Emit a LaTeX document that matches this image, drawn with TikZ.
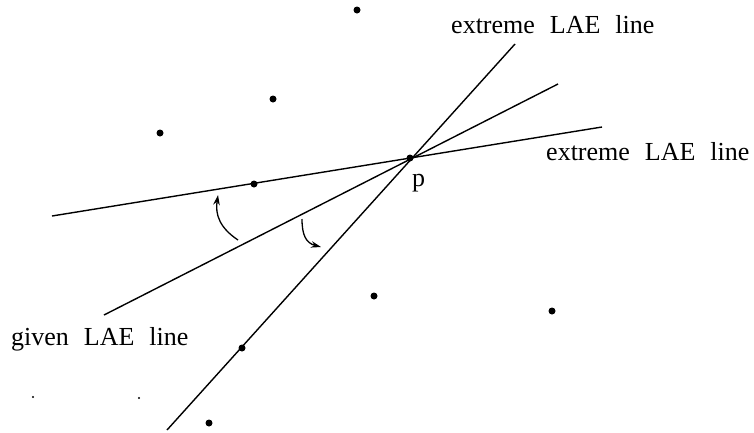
\documentclass[tikz,border=0pt]{standalone}
\usepackage{fontspec}
\setmainfont{Liberation Serif}
\usetikzlibrary{arrows.meta}
\newcommand{\wg}{\hspace{15pt}}
\begin{document}
\begin{tikzpicture}[x=1pt,y=-1pt,
  ln/.style={line width=1.4pt},
  pt/.style={circle,fill=black,inner sep=0pt,minimum size=7pt},
  speck/.style={circle,fill=black,inner sep=0pt,minimum size=2.4pt},
  lbl/.style={font=\fontsize{26}{30}\selectfont,inner sep=0pt,anchor=base west},
  arr/.style={line width=1.3pt,-{Stealth[length=10pt,width=6.5pt]}}]
\useasboundingbox (0,0) rectangle (754,432);
% lines
\coordinate (a1) at (167,430); \coordinate (a2) at (515,44);
\coordinate (b1) at (104,315); \coordinate (b2) at (558,84);
\coordinate (c1) at (52,216);  \coordinate (c2) at (602,127);
\draw[ln] (a1) -- (a2);
\draw[ln] (b1) -- (b2);
\draw[ln] (c1) -- (c2);
% points
\node[pt] (p) at (410,158) {};
\node[pt] (d1) at (357,10) {};
\node[pt] (d2) at (273,99) {};
\node[pt] (d3) at (160,133) {};
\node[pt] (d4) at (254,184) {};
\node[pt] (d5) at (374,296) {};
\node[pt] (d6) at (552,311) {};
\node[pt] (d7) at (242,348) {};
\node[pt] (d8) at (209,423) {};
\node[speck] (s1) at (33,397) {};
\node[speck] (s2) at (139,398) {};
% labels
\node[lbl] (t1) at (451,33) {extreme\wg LAE\wg line};
\node[lbl] (t2) at (546,160) {extreme\wg LAE\wg line};
\node[lbl] (t3) at (11,345) {given\wg LAE\wg line};
\node[lbl] (tp) at (412,186) {p};
% curved arrows
\coordinate (e1) at (238,240); \coordinate (f1) at (218,195);
\draw[arr] (e1) .. controls (220,228) and (215,215) .. (f1);
\coordinate (e2) at (302,219); \coordinate (f2) at (321,247);
\draw[arr] (e2) .. controls (302,235) and (306,243) .. (f2);
\end{tikzpicture}
\end{document}
